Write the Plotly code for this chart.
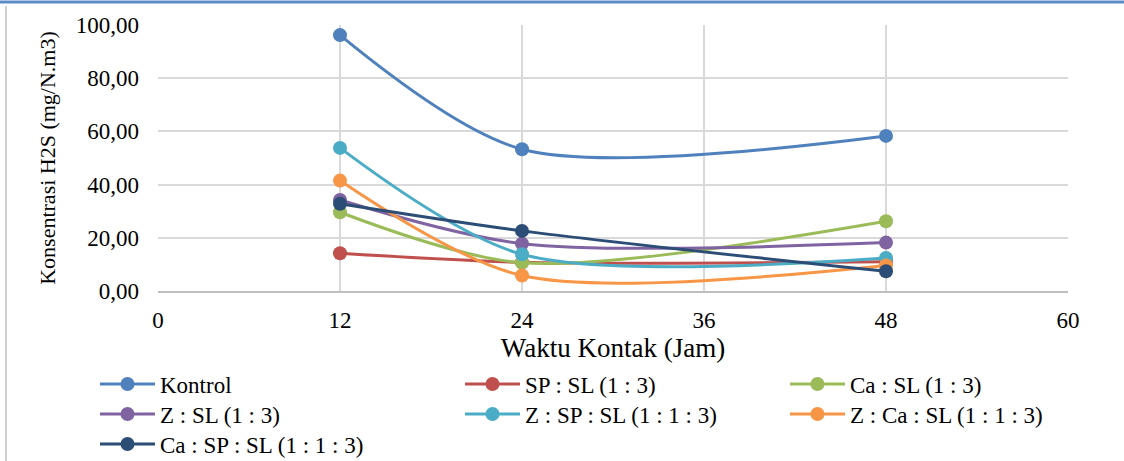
import plotly.graph_objects as go

waktu = [12, 24, 48]
series_names = ["Kontrol", "SP : SL (1 : 3)", "Ca : SL (1 : 3)", "Z : SL (1 : 3)",
                "Z : SP : SL (1 : 1 : 3)", "Z : Ca : SL (1 : 1 : 3)", "Ca : SP : SL (1 : 1 : 3)"]
kontrol = [96.2, 53.3, 58.3]
sp_sl = [14.2, 10.8, 11.0]
ca_sl = [29.6, 10.6, 26.2]
z_sl = [34.2, 17.8, 18.2]
z_sp_sl = [53.8, 13.8, 12.4]
z_ca_sl = [41.5, 5.8, 9.6]
ca_sp_sl = [32.8, 22.6, 7.4]
all_values = [kontrol, sp_sl, ca_sl, z_sl, z_sp_sl, z_ca_sl, ca_sp_sl]
colors = ["#4F81BD", "#C0504D", "#9BBB59", "#8064A2", "#4BACC6", "#F79646", "#2C4D75"]

x_ticks = [0, 12, 24, 36, 48, 60]
y_ticks = [0, 20, 40, 60, 80, 100]

FONT = "Liberation Serif"

L, R, T, B = 158, 56, 25, 170
W, H = 1124, 461
pw, ph = W - L - R, H - T - B

def px(x):
    return (x - L) / pw

def py(y):
    return (H - B - y) / ph

# legend slot positions (column left px, row centre px) in the 3-column grid
col_x = [95, 460, 785]
row_y = [384, 414, 444]

fig = go.Figure()
legend_layouts = {}
for i, (name, vals, col) in enumerate(zip(series_names, all_values, colors)):
    lid = "legend" if i == 0 else f"legend{i + 1}"
    fig.add_trace(go.Scatter(
        x=waktu, y=vals, name=name, mode="lines+markers",
        line=dict(color=col, width=3, shape="spline", smoothing=0.85),
        marker=dict(color=col, size=14),
        legend=lid,
    ))
    r, c = divmod(i, 3)
    legend_layouts[lid] = dict(
        x=px(col_x[c]), y=py(row_y[r]), xanchor="left", yanchor="middle",
        orientation="v", font=dict(family=FONT, size=23, color="black"),
        bgcolor="rgba(0,0,0,0)", itemwidth=55,
    )

fig.update_layout(
    width=W, height=H,
    margin=dict(l=L, r=R, t=T, b=B, pad=0, autoexpand=False),
    paper_bgcolor="white", plot_bgcolor="white",
    separators=",.",
    font=dict(family=FONT, size=22, color="black"),
    showlegend=True,
    xaxis=dict(
        range=[0, 60], tickvals=x_ticks, ticktext=[str(v) for v in x_ticks],
        showgrid=True, gridcolor="#d9d9d9", gridwidth=2,
        showline=True, linecolor="#bfbfbf", linewidth=2, mirror=False,
        zeroline=False, ticks="", ticklabelstandoff=7, automargin=False,
        tickfont=dict(family=FONT, size=23, color="black"),
        title=dict(text="Waktu Kontak (Jam)", font=dict(family=FONT, size=27, color="black"), standoff=6),
    ),
    yaxis=dict(
        range=[0, 100], tickvals=y_ticks, tickformat=".2f",
        showgrid=True, gridcolor="#d9d9d9", gridwidth=2,
        showline=False, zeroline=False, ticks="", ticklabelstandoff=18, automargin=False,
        tickfont=dict(family=FONT, size=23, color="black"),
        title=dict(text="Konsentrasi H2S (mg/N.m3)", font=dict(family=FONT, size=22, color="black"), standoff=14),
    ),
    shapes=[
        dict(type="line", xref="paper", yref="paper", x0=px(0), x1=px(W), y0=py(2), y1=py(2),
             line=dict(color="#5B8BC9", width=3)),
        dict(type="line", xref="paper", yref="paper", x0=px(6), x1=px(6), y0=py(6), y1=py(H),
             line=dict(color="#d0d0d0", width=2)),
    ],
    **legend_layouts,
)

fig.write_html("out.html", config={"displayModeBar": False},
               post_script="document.body.style.margin='0';")
